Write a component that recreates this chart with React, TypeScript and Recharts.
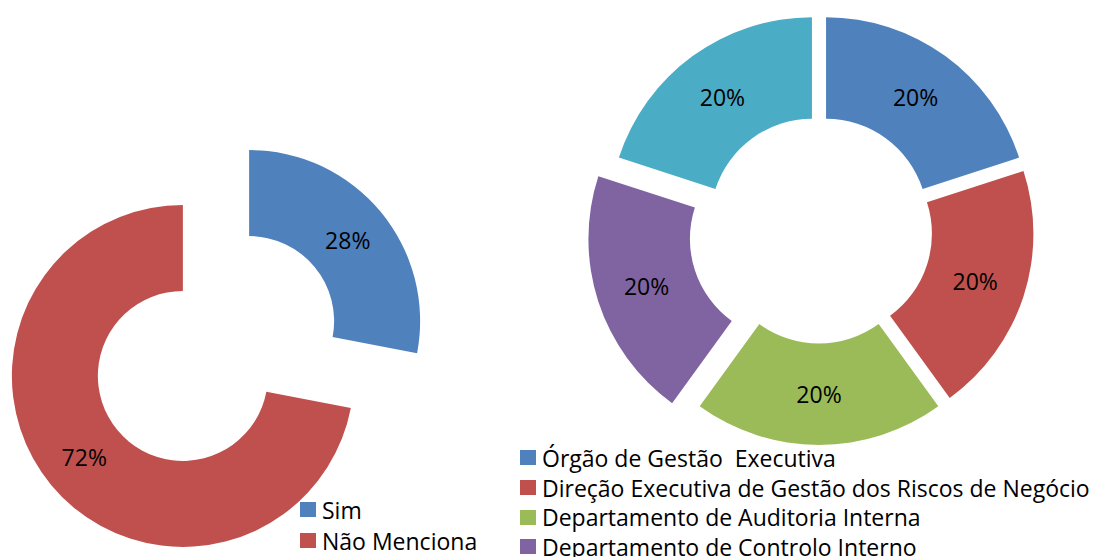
import React from "react";
import { PieChart, Pie, Sector, Legend } from "recharts";

// left donut
const simNames = ["Sim", "Não Menciona"];
const simValues = [28, 72];
const simColors = ["#4F81BD", "#C0504D"];

// right donut
const orgNames = [
  "Órgão de Gestão  Executiva",
  "Direção Executiva de Gestão dos Riscos de Negócio",
  "Departamento de Auditoria Interna",
  "Departamento de Controlo Interno",
  "Outros",
];
const orgValues = [20, 20, 20, 20, 20];
const orgColors = ["#4F81BD", "#C0504D", "#9BBB59", "#8064A2", "#4BACC6"];

// point explosion per slice, px
const simExplode = [43, 43];
const orgExplode = [12, 12, 12, 29, 12];

const FONT = "'Open Sans', 'Noto Sans', sans-serif";
const RAD = Math.PI / 180;
const noMargin = { top: 0, right: 0, bottom: 0, left: 0 };

const simData = simNames.map((name, i) => ({ name, value: simValues[i], fill: simColors[i] }));
const orgData = orgNames.map((name, i) => ({ name, value: orgValues[i], fill: orgColors[i] }));

function shift(midAngle: number, d: number) {
  return [d * Math.cos(-midAngle * RAD), d * Math.sin(-midAngle * RAD)];
}

const explodedShape = (names: string[], explode: number[]) => (props: any) => {
  const i = names.indexOf(props.name ?? props.payload?.name);
  const [dx, dy] = shift(props.midAngle, explode[i] ?? 0);
  return (
    <Sector
      cx={props.cx + dx}
      cy={props.cy + dy}
      innerRadius={props.innerRadius}
      outerRadius={props.outerRadius}
      startAngle={props.startAngle}
      endAngle={props.endAngle}
      fill={props.fill}
      stroke="none"
    />
  );
};

const explodedLabel = (names: string[], explode: number[]) => (props: any) => {
  const { cx, cy, midAngle, innerRadius, outerRadius, percent } = props;
  const i = names.indexOf(props.name ?? props.payload?.name);
  const [dx, dy] = shift(midAngle, explode[i] ?? 0);
  const r = (innerRadius + outerRadius) / 2;
  const x = cx + dx + r * Math.cos(-midAngle * RAD);
  const y = cy + dy + r * Math.sin(-midAngle * RAD);
  return (
    <text x={x} y={y} textAnchor="middle" dominantBaseline="central" fill="#000" fontSize={23} fontFamily={FONT}>
      {Math.round(percent * 100)}%
    </text>
  );
};

function LegendBox({ names, colors, rowHeight }: { names: string[]; colors: string[]; rowHeight: number }) {
  return (
    <div style={{ fontFamily: FONT, fontSize: 23, color: "#000" }}>
      {names.map((n, i) => (
        <div key={n} style={{ display: "flex", alignItems: "center", height: rowHeight, whiteSpace: "pre" }}>
          <span style={{ width: 16, height: 15, background: colors[i], marginRight: 6, flexShrink: 0 }} />
          <span>{n}</span>
        </div>
      ))}
    </div>
  );
}

export default function App() {
  return (
    <div style={{ position: "absolute", left: 0, top: 0, width: 1096, height: 557, overflow: "hidden", background: "#fff" }}>
      <div style={{ position: "absolute", left: 0, top: 0 }}>
        <PieChart width={500} height={557} margin={noMargin}>
          <Pie
            data={simData}
            dataKey="value"
            nameKey="name"
            cx={216}
            cy={348.5}
            innerRadius={85}
            outerRadius={171}
            startAngle={90}
            endAngle={-270}
            stroke="none"
            shape={explodedShape(simNames, simExplode)}
            label={explodedLabel(simNames, simExplode)}
            labelLine={false}
            isAnimationActive={false}
          />
          <Legend
            content={() => <LegendBox names={simNames} colors={simColors} rowHeight={31} />}
            wrapperStyle={{ position: "absolute", left: 300, top: 494, width: 200 }}
          />
        </PieChart>
      </div>
      <div style={{ position: "absolute", left: 500, top: 0 }}>
        <PieChart width={596} height={557} margin={noMargin}>
          <Pie
            data={orgData}
            dataKey="value"
            nameKey="name"
            cx={319}
            cy={230}
            innerRadius={101.5}
            outerRadius={203}
            startAngle={90}
            endAngle={-270}
            stroke="none"
            shape={explodedShape(orgNames, orgExplode)}
            label={explodedLabel(orgNames, orgExplode)}
            labelLine={false}
            isAnimationActive={false}
          />
          <Legend
            content={() => <LegendBox names={orgNames} colors={orgColors} rowHeight={29.7} />}
            wrapperStyle={{ position: "absolute", left: 20, top: 443, width: 576 }}
          />
        </PieChart>
      </div>
    </div>
  );
}
